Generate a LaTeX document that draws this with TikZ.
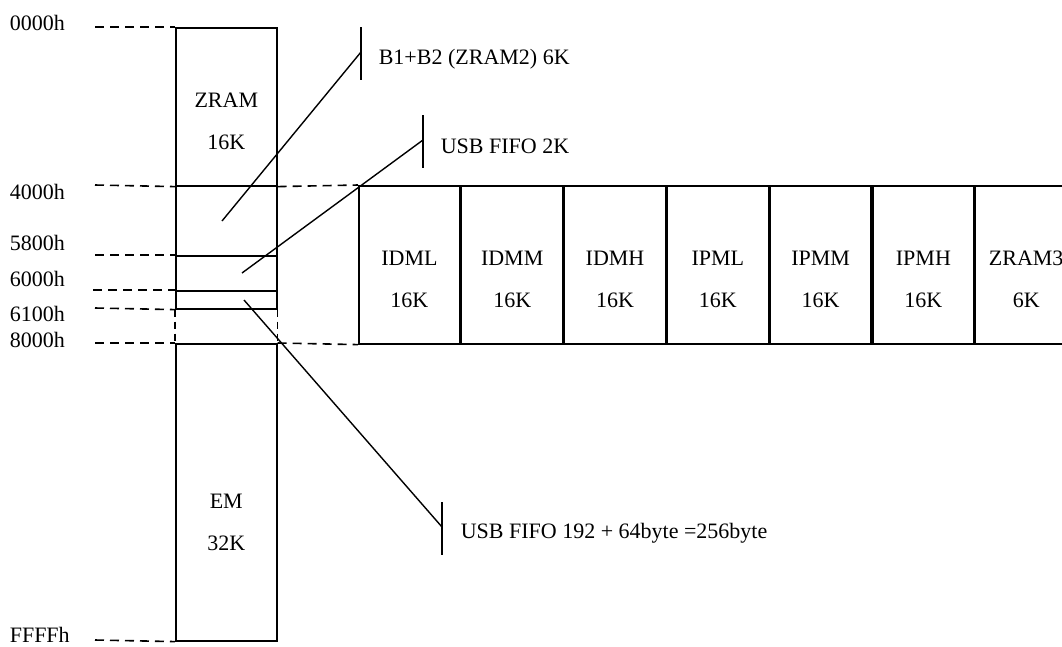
\documentclass[tikz,border=0pt]{standalone}
\usepackage{fontspec}
\setmainfont{Liberation Serif}
\usetikzlibrary{positioning}
\tikzstyle{mem} = [draw, rectangle, anchor=north west, inner sep=0pt, minimum width=101pt]
\tikzstyle{cell} = [draw, rectangle, inner sep=0pt, minimum width=101.2pt, minimum height=158pt]
\tikzstyle{txt} = [align=center, inner sep=0pt]
\tikzstyle{addr} = [anchor=west, inner sep=0pt]
\tikzstyle{note} = [anchor=west, inner sep=0pt]
\tikzstyle{guide} = [dash pattern=on 9pt off 6pt]
\tikzstyle{gap} = [dash pattern=on 7pt off 5pt]

\begin{document}
\begin{tikzpicture}[x=1pt, y=-1pt, line width=1.6pt, font=\fontsize{22}{42}\selectfont]
    \useasboundingbox (0,0) rectangle (1062,646);
    % Drawing blocks and nodes
    \node [mem, minimum height=158pt] (zram) at (175,27) {};
    \node [mem, minimum height=70pt] (zram2) at (175,185) {};
    \node [mem, minimum height=35pt] (fifo2k) at (175,255) {};
    \node [mem, minimum height=18pt] (fifo256) at (175,290) {};
    \node [mem, minimum height=297pt] (em) at (175,343) {};
    \node [txt] (zramT) at ([yshift=-14.5pt]zram.center) {ZRAM\\16K};
    \node [txt] (emT) at ([yshift=-30pt]em.center) {EM\\32K};

    \node [cell, anchor=north west] (idml) at (358,185) {};
    \node [cell, right=0pt of idml] (idmm) {};
    \node [cell, right=0pt of idmm] (idmh) {};
    \node [cell, right=0pt of idmh] (ipml) {};
    \node [cell, right=0pt of ipml] (ipmm) {};
    \node [cell, right=0pt of ipmm] (ipmh) {};
    \node [cell, right=0pt of ipmh] (zram3) {};
    \node [txt] (idmlT) at ([yshift=-15pt]idml.center) {IDML\\16K};
    \node [txt] (idmmT) at ([yshift=-15pt]idmm.center) {IDMM\\16K};
    \node [txt] (idmhT) at ([yshift=-15pt]idmh.center) {IDMH\\16K};
    \node [txt] (ipmlT) at ([yshift=-15pt]ipml.center) {IPML\\16K};
    \node [txt] (ipmmT) at ([yshift=-15pt]ipmm.center) {IPMM\\16K};
    \node [txt] (ipmhT) at ([yshift=-15pt]ipmh.center) {IPMH\\16K};
    \node [txt] (zram3T) at ([yshift=-15pt]zram3.center) {ZRAM3\\6K};

    % Address labels
    \node [addr] (a0000) at (9,23) {0000h};
    \node [addr] (a4000) at (9,192) {4000h};
    \node [addr] (a5800) at (9,243) {5800h};
    \node [addr] (a6000) at (9,279) {6000h};
    \node [addr] (a6100) at (9,314) {6100h};
    \node [addr] (a8000) at (9,340) {8000h};
    \node [addr] (affff) at (9,635) {FFFFh};
    \coordinate (g0000) at (95,27);
    \coordinate (g4000) at (95,185);
    \coordinate (g5800) at (95,255);
    \coordinate (g6000) at (93,290);
    \coordinate (g6100) at (95,308);
    \coordinate (g8000) at (95,343);
    \coordinate (gffff) at (95,640);

    % Dashed guides
    \draw [guide] (g0000) -- (zram.north west);
    \draw [guide] (g4000) -- (zram.south west);
    \draw [guide] (g5800) -- (fifo2k.north west);
    \draw [guide] (g6000) -- (fifo256.north west);
    \draw [guide] (g6100) -- (fifo256.south west);
    \draw [guide] (g8000) -- (em.north west);
    \draw [guide] (gffff) -- (em.south west);
    \draw [guide] (zram.south east) -- (idml.north west);
    \draw [guide] (em.north east) -- (idml.south west);
    \draw [gap] (fifo256.south west) -- (em.north west);
    \draw [gap] (fifo256.south east) -- (em.north east);

    % Callouts
    \coordinate (p1) at (222,221);
    \coordinate (t1) at (361,52);
    \coordinate (p2) at (242,273);
    \coordinate (t2) at (423,140);
    \coordinate (p3) at (244,300);
    \coordinate (t3) at (442,527);
    \draw [line width=1.4pt] (p1) -- (t1);
    \draw [line width=1.4pt] (p2) -- (t2);
    \draw [line width=1.4pt] (p3) -- (t3);
    \draw [line width=1.4pt] (t1) ++(0,-25) -- ++(0,53);
    \draw [line width=1.4pt] (t2) ++(0,-25) -- ++(0,53);
    \draw [line width=1.4pt] (t3) ++(0,-25) -- ++(0,53);
    \node [note] (n1) at (378,59) {B1+B2 (ZRAM2) 6K};
    \node [note] (n2) at (440,146) {USB FIFO 2K};
    \node [note] (n3) at (460,533) {USB FIFO 192 + 64byte =256byte};
\end{tikzpicture}
\end{document}
